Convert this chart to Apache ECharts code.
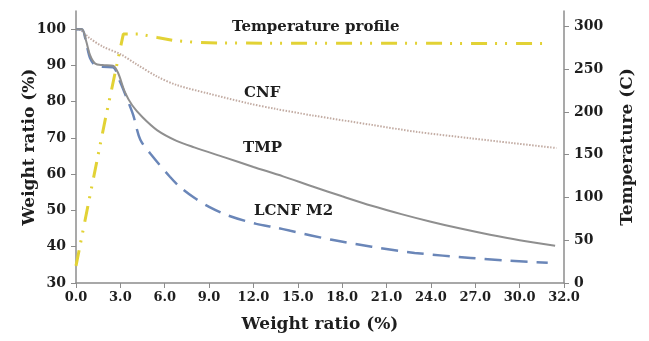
<!DOCTYPE html>
<html>
<head>
<meta charset="utf-8">
<script src="https://cdn.jsdelivr.net/npm/echarts@6/dist/echarts.min.js"></script>
<style>
  html, body { margin: 0; padding: 0; background: #fff; }
  #chart { width: 649px; height: 341px; }
</style>
</head>
<body>
<div id="chart"></div>
<script>
// tick labels on the x axis (evenly spaced, last one reads 32.0)
const xTickLabels = ['0.0', '3.0', '6.0', '9.0', '12.0', '15.0', '18.0', '21.0', '24.0', '27.0', '30.0', '32.0']
const leftTicks = [30, 40, 50, 60, 70, 80, 90, 100]
const rightTicks = [0, 50, 100, 150, 200, 250, 300]

// TMP (solid grey)
const tmpX = [0, 0.4, 0.7, 0.95, 1.3, 1.8, 2.5, 2.85, 3.3, 3.8, 4.5, 5.5, 6.8, 8, 10, 12, 14, 16, 18, 20, 22, 24, 26, 28, 30, 32.4]
const tmpY = [100, 100, 96.5, 92.8, 90.5, 90.1, 89.9, 87.9, 82.7, 79, 75.7, 72.1, 69.2, 67.4, 64.7, 62.0, 59.4, 56.6, 53.9, 51.3, 49.0, 46.9, 45.0, 43.3, 41.8, 40.3]

// LCNF M2 (blue dashed)
const lcnfX = [0, 0.4, 0.7, 0.95, 1.3, 1.8, 2.5, 2.98, 3.44, 3.87, 4.35, 5.2, 6.35, 7, 8, 9, 10.3, 12.2, 13.5, 14.5, 17.3, 20, 22.9, 26.7, 29, 31.9]
const lcnfY = [100, 100, 96, 92, 90, 89.6, 89.5, 85.5, 80.9, 76.3, 69.5, 64.8, 59.3, 56.6, 53.5, 51, 48.6, 46.3, 45.3, 44.4, 41.9, 40, 38.3, 36.9, 36.2, 35.6]

// CNF (dotted)
const cnfX = [0, 0.3, 0.9, 1.8, 3, 4.1, 5.5, 6.8, 8.9, 11.7, 13.5, 16, 20, 23, 26.7, 29.5, 32.5]
const cnfY = [100, 99.8, 97.6, 95.2, 93.1, 90.3, 86.9, 84.6, 82.3, 79.5, 78, 76.2, 73.6, 71.7, 69.9, 68.6, 67.2]

// temperature profile (right axis)
const tempX = [0, 1, 2, 3.2, 4.3, 5.5, 6.6, 8, 10, 31.8]
const tempY = [20, 107, 193, 291, 291, 287, 283.5, 281.5, 280.5, 280]

const pairs = (xs, ys) => xs.map((x, i) => [x, ys[i]])

const serif = '"DejaVu Serif", "Liberation Serif", serif'
const axisColor = '#8c8c8c'
const ink = '#1e1e1e'
const labelStyle = { color: ink, fontFamily: serif, fontWeight: 'bold', fontSize: 14 }
const titleStyle = { color: ink, fontFamily: serif, fontWeight: 'bold', fontSize: 17 }

const chart = echarts.init(document.getElementById('chart'))
chart.setOption({
  backgroundColor: '#fff',
  animation: false,
  grid: { left: 76, right: 85, top: 11, bottom: 58 },
  xAxis: {
    type: 'value',
    min: 0,
    max: 33,
    interval: 3,
    name: 'Weight ratio (%)',
    nameLocation: 'middle',
    nameGap: 33,
    nameTextStyle: titleStyle,
    splitLine: { show: false },
    axisLine: { lineStyle: { color: axisColor, width: 1.5 } },
    axisTick: { length: 5, lineStyle: { color: axisColor } },
    axisLabel: Object.assign({}, labelStyle, { fontSize: 13, margin: 8, formatter: v => xTickLabels[Math.round(v / 3)] }),
  },
  yAxis: [
    {
      type: 'value',
      min: 30,
      max: 105,
      name: 'Weight ratio (%)',
      nameLocation: 'middle',
      nameGap: 38,
      nameMoveOverlap: false,
      nameTextStyle: titleStyle,
      splitLine: { show: false },
      axisLine: { show: true, lineStyle: { color: axisColor, width: 1.5 } },
      axisTick: { show: true, length: 5, customValues: leftTicks, lineStyle: { color: axisColor } },
      axisLabel: Object.assign({ margin: 10, customValues: leftTicks }, labelStyle),
    },
    {
      type: 'value',
      min: 0,
      max: 318,
      name: 'Temperature (C)',
      nameLocation: 'middle',
      nameGap: 55,
      nameTextStyle: titleStyle,
      splitLine: { show: false },
      axisLine: { show: true, lineStyle: { color: axisColor, width: 1.5 } },
      axisTick: { show: true, length: 5, customValues: rightTicks, lineStyle: { color: axisColor } },
      axisLabel: Object.assign({ margin: 10, customValues: rightTicks }, labelStyle),
    },
  ],
  series: [
    {
      name: 'Temperature profile',
      type: 'line',
      yAxisIndex: 1,
      data: pairs(tempX, tempY),
      showSymbol: false,
      lineStyle: { color: '#e2d235', width: 3, type: [16, 8, 2, 8, 2, 9] },
    },
    {
      name: 'CNF',
      type: 'line',
      data: pairs(cnfX, cnfY),
      smooth: 0.3,
      showSymbol: false,
      lineStyle: { color: '#c2aba2', width: 2, type: [1.5, 1.5] },
    },
    {
      name: 'LCNF M2',
      type: 'line',
      data: pairs(lcnfX, lcnfY),
      smooth: 0.3,
      showSymbol: false,
      lineStyle: { color: '#6a86b8', width: 2.5, type: [17, 9] },
    },
    {
      name: 'TMP',
      type: 'line',
      data: pairs(tmpX, tmpY),
      smooth: 0.3,
      showSymbol: false,
      lineStyle: { color: '#8f8f8f', width: 2 },
    },
  ],
  graphic: [
    { type: 'text', left: 232, top: 20, style: { text: 'Temperature profile', fill: ink, font: 'bold 15px ' + serif } },
    { type: 'text', left: 244, top: 86, style: { text: 'CNF', fill: ink, font: 'bold 15px ' + serif } },
    { type: 'text', left: 243, top: 141, style: { text: 'TMP', fill: ink, font: 'bold 15px ' + serif } },
    { type: 'text', left: 254, top: 204, style: { text: 'LCNF M2', fill: ink, font: 'bold 15px ' + serif } },
  ],
})
</script>
</body>
</html>
